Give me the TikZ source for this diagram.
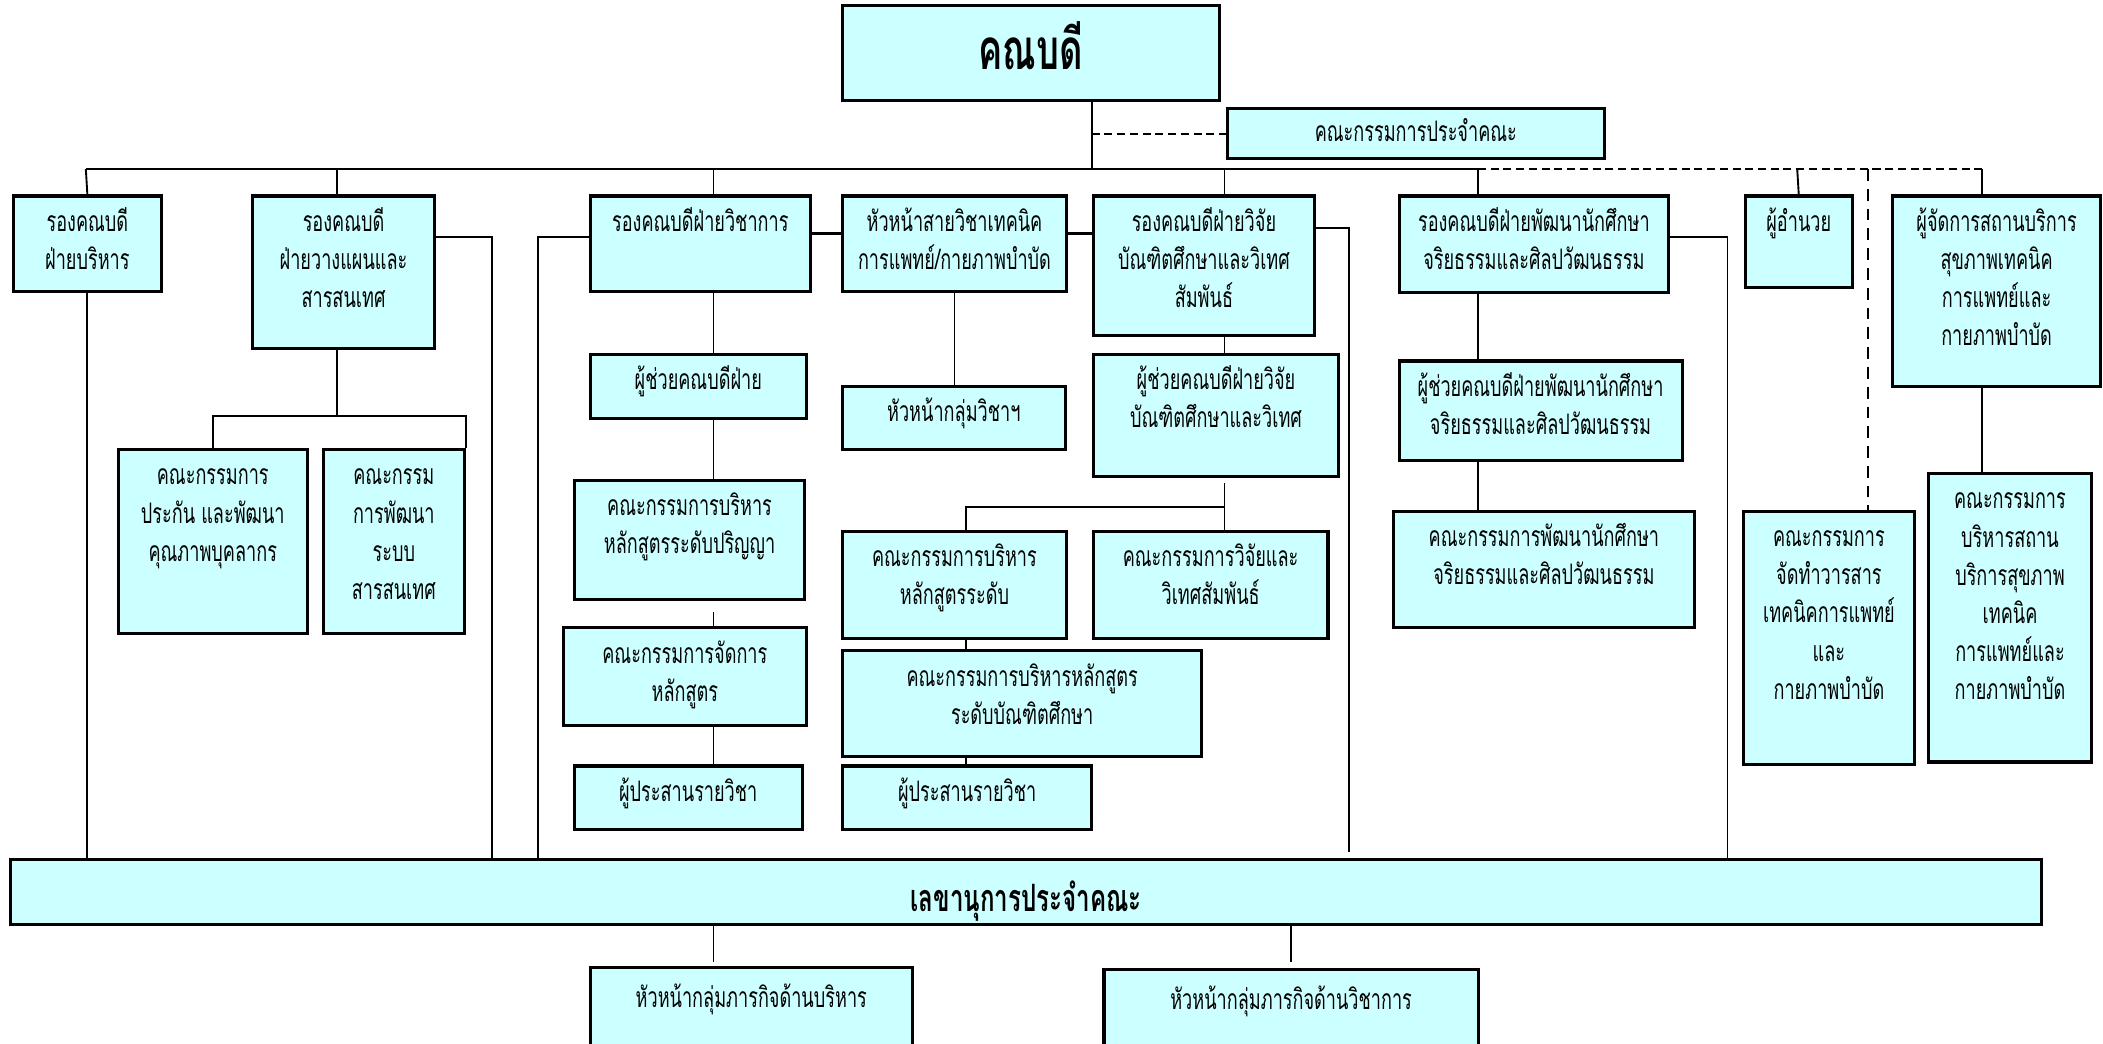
\documentclass[tikz,border=0pt]{standalone}
\usepackage{fontspec}
\newfontfamily\thaifont[Script=Thai,FakeStretch=0.64]{Loma}
\definecolor{cellcyan}{HTML}{CCFFFF}
\newdimen\unitpx \unitpx=0.02cm
% top aligned text in a box of fixed size (sizes in px)
\newcommand{\cell}[4][15pt]{\parbox[t][#3\unitpx][t]{#2\unitpx}{\centering\rule{0pt}{#1}#4}}
\tikzset{
  unit/.style={draw=black, line width=1.3pt, fill=cellcyan, anchor=north west, inner sep=0pt,
    font=\thaifont\fontsize{12pt}{16.2pt}\selectfont},
  link/.style={line width=0.8pt},
  bus/.style={line width=1.1pt},
  dotlink/.style={line width=0.8pt, dash pattern=on 3.4pt off 2pt},
  longdash/.style={line width=0.8pt, dash pattern=on 5pt off 3.4pt},
}
\begin{document}
\begin{tikzpicture}[x=0.02cm, y=-0.02cm]
  \clip (0,0) rectangle (1568,778);
  \fill[white] (0,0) rectangle (1568,778);

  % top level
  \node[unit] (dean) at (627,3) {\cell[27pt]{281}{71}{\bfseries\fontsize{24pt}{28pt}\selectfont คณบดี}};
  \node[unit] (board) at (914,80) {\cell[14pt]{281}{37}{คณะกรรมการประจำคณะ}};

  % row of deputies
  \node[unit] (vdadmin) at (9,145) {\cell{110}{71}{รองคณบดี\\ฝ่ายบริหาร}};
  \node[unit] (vdplan) at (187,145) {\cell{136}{114}{รองคณบดี\\ฝ่ายวางแผนและ\\สารสนเทศ}};
  \node[unit] (vdacad) at (439,145) {\cell{164}{71}{รองคณบดีฝ่ายวิชาการ}};
  \node[unit] (headmt) at (627,145) {\cell{167}{71}{หัวหน้าสายวิชาเทคนิค\\การแพทย์/กายภาพบำบัด}};
  \node[unit] (vdres) at (814,145) {\cell{165}{104}{รองคณบดีฝ่ายวิจัย\\บัณฑิตศึกษาและวิเทศ\\สัมพันธ์}};
  \node[unit] (vdstu) at (1042,145) {\cell{201}{72}{รองคณบดีฝ่ายพัฒนานักศึกษา\\จริยธรรมและศิลปวัฒนธรรม}};
  \node[unit] (director) at (1300,145) {\cell{80}{68}{ผู้อำนวย}};
  \node[unit] (svcmgr) at (1410,145) {\cell{155}{142}{ผู้จัดการสถานบริการ\\สุขภาพเทคนิค\\การแพทย์และ\\กายภาพบำบัด}};

  % lower boxes
  \node[unit] (qacomm) at (87,334) {\cell{141}{137}{คณะกรรมการ\\ประกัน และพัฒนา\\คุณภาพบุคลากร}};
  \node[unit] (itcomm) at (240,334) {\cell{105}{137}{คณะกรรม\\การพัฒนา\\ระบบ\\สารสนเทศ}};
  \node[unit] (astacad) at (439,263) {\cell{161}{48}{ผู้ช่วยคณบดีฝ่าย}};
  \node[unit] (ugcomm) at (427,357) {\cell{172}{89}{คณะกรรมการบริหาร\\หลักสูตรระดับปริญญา}};
  \node[unit] (currcomm) at (419,467) {\cell{181}{73}{คณะกรรมการจัดการ\\หลักสูตร}};
  \node[unit] (coordug) at (427,570) {\cell{170}{47}{ผู้ประสานรายวิชา}};
  \node[unit] (headgrp) at (627,287) {\cell{166}{47}{หัวหน้ากลุ่มวิชาฯ}};
  \node[unit] (astres) at (814,263) {\cell{183}{91}{ผู้ช่วยคณบดีฝ่ายวิจัย\\บัณฑิตศึกษาและวิเทศ}};
  \node[unit] (gradcur) at (627,395) {\cell{167}{80}{คณะกรรมการบริหาร\\หลักสูตรระดับ}};
  \node[unit] (rescomm) at (814,395) {\cell{175}{80}{คณะกรรมการวิจัยและ\\วิเทศสัมพันธ์}};
  \node[unit] (gradcomm) at (627,484) {\cell{268}{79}{คณะกรรมการบริหารหลักสูตร\\ระดับบัณฑิตศึกษา}};
  \node[unit] (coordgr) at (627,570) {\cell{186}{47}{ผู้ประสานรายวิชา}};
  \node[unit] (aststu) at (1042,268) {\cell{211}{74}{ผู้ช่วยคณบดีฝ่ายพัฒนานักศึกษา\\จริยธรรมและศิลปวัฒนธรรม}};
  \node[unit] (stucomm) at (1038,380) {\cell{224}{87}{คณะกรรมการพัฒนานักศึกษา\\จริยธรรมและศิลปวัฒนธรรม}};
  \node[unit] (jourcomm) at (1299,380) {\cell{127}{189}{คณะกรรมการ\\จัดทำวารสาร\\เทคนิคการแพทย์\\และ\\กายภาพบำบัด}};
  \node[unit] (svccomm) at (1437,352) {\cell{121}{215}{คณะกรรมการ\\บริหารสถาน\\บริการสุขภาพ\\เทคนิค\\การแพทย์และ\\กายภาพบำบัด}};

  % secretary and below
  \node[unit] (secretary) at (7,640) {\cell[22pt]{1514}{48}{\bfseries\fontsize{16pt}{18pt}\selectfont เลขานุการประจำคณะ}};
  \node[unit] (adminhead) at (439,720) {\cell[17pt]{240}{80}{หัวหน้ากลุ่มภารกิจด้านบริหาร}};
  \node[unit] (acadhead) at (822,722) {\cell[17pt]{279}{80}{หัวหน้ากลุ่มภารกิจด้านวิชาการ}};

  % columns and rows used by the connectors
  \coordinate (hub) at (814,126);
  \coordinate (c1) at (64,126);
  \coordinate (c2) at (251,126);
  \coordinate (c3) at (532,126);
  \coordinate (c4) at (913,126);
  \coordinate (c5) at (1102,126);
  \coordinate (c6) at (1340,126);
  \coordinate (c7) at (1478,126);
  \coordinate (c8) at (1393,126);
  \coordinate (t1) at (720,0);
  \coordinate (s1) at (367,0);
  \coordinate (s2) at (401,0);
  \coordinate (s3) at (1006,0);
  \coordinate (s4) at (1288,0);
  \coordinate (r1) at (0,174);
  \coordinate (r2) at (0,177);
  \coordinate (r3) at (0,170);
  \coordinate (r4) at (0,310);
  \coordinate (r6) at (0,378);

  % dean and board
  \draw[link] (dean.south -| hub) -- (hub);
  \draw[dotlink] (board.west -| hub) -- (board.west);

  % main bus
  \draw[bus] (c1) -- (c5);
  \draw[dotlink] (c5) -- (c7);
  \draw[link] (c1) -- (vdadmin.north);
  \draw[link] (c2) -- (c2 |- vdplan.north);
  \draw[link] (c3) -- (c3 |- vdacad.north);
  \draw[link] (c4) -- (c4 |- vdres.north);
  \draw[link] (c5) -- (c5 |- vdstu.north);
  \draw[link] (c6) -- (director.north);
  \draw[link] (c7) -- (c7 |- svcmgr.north);
  \draw[longdash] (c8) -- (c8 |- jourcomm.north);

  % side links
  \draw[bus] (vdacad.east |- r1) -- (headmt.west |- r1);
  \draw[bus] (headmt.east |- r1) -- (vdres.west |- r1);
  \draw[link] (vdplan.east |- r2) -| (s1 |- secretary.north);
  \draw[link] (vdacad.west |- r2) -| (s2 |- secretary.north);
  \draw[link, shorten >=0.1cm] (vdres.east |- r3) -| (s3 |- secretary.north);
  \draw[link] (vdstu.east |- r2) -| (s4 |- secretary.north);
  \draw[link] (vdadmin.south) -- (vdadmin.south |- secretary.north);

  % planning
  \draw[link] (c2 |- vdplan.south) -- (c2 |- r4);
  \draw[link] (qacomm.north) -- (qacomm.north |- r4) -- (itcomm.north east |- r4) -- (itcomm.north east);

  % academic
  \draw[link] (c3 |- vdacad.south) -- (c3 |- astacad.north);
  \draw[link] (c3 |- astacad.south) -- (c3 |- ugcomm.north);
  \draw[link, shorten <=0.16cm] (c3 |- ugcomm.south) -- (c3 |- currcomm.north);
  \draw[link] (c3 |- currcomm.south) -- (c3 |- coordug.north);
  \draw[link] (headmt.south) -- (headmt.south |- headgrp.north);

  % research
  \draw[link] (c4 |- vdres.south) -- (c4 |- astres.north);
  \draw[link, shorten <=0.08cm] (c4 |- astres.south) -- (c4 |- rescomm.north);
  \draw[link] (c4 |- r6) -- (t1 |- r6) -- (t1 |- gradcur.north);
  \draw[link] (t1 |- gradcur.south) -- (t1 |- gradcomm.north);
  \draw[link] (t1 |- gradcomm.south) -- (t1 |- coordgr.north);

  % students and services
  \draw[link] (c5 |- vdstu.south) -- (c5 |- aststu.north);
  \draw[link] (c5 |- aststu.south) -- (c5 |- stucomm.north);
  \draw[link] (c7 |- svcmgr.south) -- (c7 |- svccomm.north);

  % secretary
  \draw[link, shorten >=0.06cm] (c3 |- secretary.south) -- (c3 |- adminhead.north);
  \draw[link, shorten >=0.1cm] (acadhead.north |- secretary.south) -- (acadhead.north);
\end{tikzpicture}
\end{document}
